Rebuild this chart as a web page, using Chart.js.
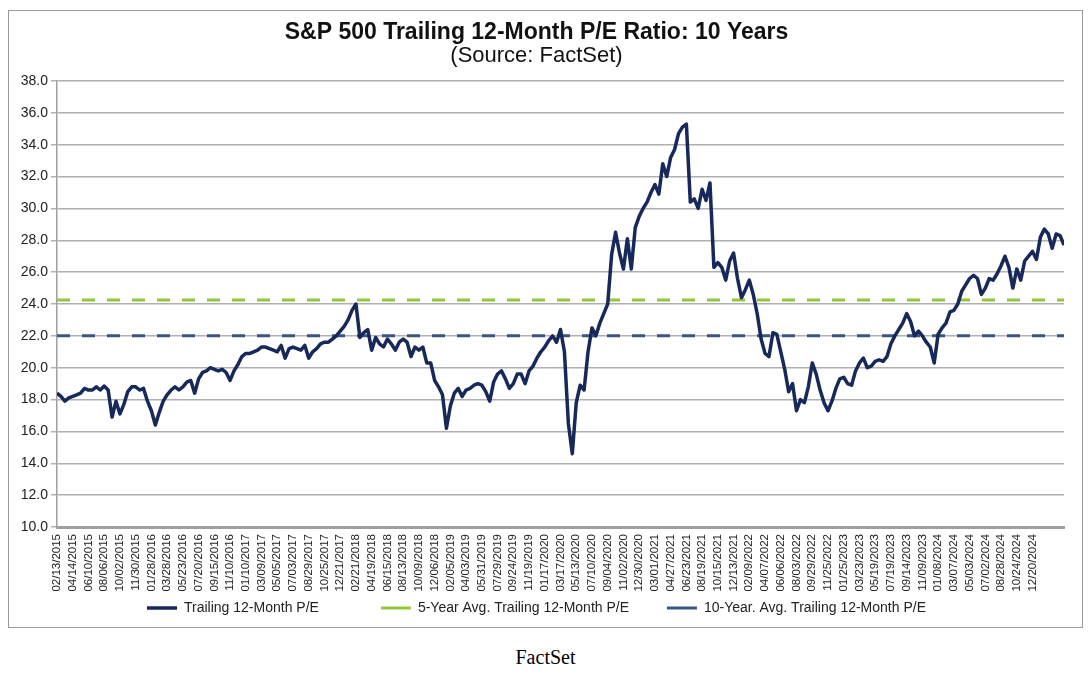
<!DOCTYPE html>
<html>
<head>
<meta charset="utf-8">
<title>S&amp;P 500 Trailing 12-Month P/E Ratio: 10 Years</title>
<script src="https://cdn.jsdelivr.net/npm/chart.js@4.4.1/dist/chart.umd.min.js"></script>
<style>
  body { margin: 0; background: #fff; }
  #box {
    position: absolute; left: 8px; top: 10px;
    width: 1075px; height: 618px;
    box-sizing: border-box; border: 1px solid #9a9a9a;
  }
  #chart { display: block; }
  #source {
    position: absolute; left: 0; width: 1091px; top: 646px;
    text-align: center; font-family: "Liberation Serif", "DejaVu Serif", serif;
    font-size: 20px; color: #000;
  }
</style>
</head>
<body>
<div id="box"><canvas id="chart" width="1073" height="616"></canvas></div>
<div id="source">FactSet</div>
<script>
// tick labels on the x axis, one every 4 points
const tickLabels = [
  "02/13/2015", "04/14/2015", "06/10/2015", "08/06/2015", "10/02/2015", "11/30/2015",
  "01/28/2016", "03/28/2016", "05/23/2016", "07/20/2016", "09/15/2016", "11/10/2016",
  "01/10/2017", "03/09/2017", "05/05/2017", "07/03/2017", "08/29/2017", "10/25/2017",
  "12/21/2017", "02/21/2018", "04/19/2018", "06/15/2018", "08/13/2018", "10/09/2018",
  "12/06/2018", "02/05/2019", "04/03/2019", "05/31/2019", "07/29/2019", "09/24/2019",
  "11/19/2019", "01/17/2020", "03/17/2020", "05/13/2020", "07/10/2020", "09/04/2020",
  "11/02/2020", "12/30/2020", "03/01/2021", "04/27/2021", "06/23/2021", "08/19/2021",
  "10/15/2021", "12/13/2021", "02/09/2022", "04/07/2022", "06/06/2022", "08/03/2022",
  "09/29/2022", "11/25/2022", "01/25/2023", "03/23/2023", "05/19/2023", "07/19/2023",
  "09/14/2023", "11/09/2023", "01/08/2024", "03/07/2024", "05/03/2024", "07/02/2024",
  "08/28/2024", "10/24/2024", "12/20/2024"
];
const pointsPerTick = 4;

// trailing 12-month P/E (roughly every 10 trading days)
const trailingPE = [
  18.4, 18.2, 17.9, 18.1, 18.2, 18.3, 18.4, 18.7, 18.6, 18.6,   // 0
  18.8, 18.6, 18.85, 18.6, 16.9, 17.9, 17.1, 17.7, 18.5, 18.8,  // 10
  18.8, 18.6, 18.7, 17.9, 17.3, 16.4, 17.2, 17.9, 18.3, 18.6,   // 20
  18.8, 18.6, 18.8, 19.1, 19.2, 18.4, 19.3, 19.7, 19.8, 20.0,   // 30
  19.9, 19.8, 19.9, 19.7, 19.2, 19.8, 20.2, 20.7, 20.9, 20.9,   // 40
  21.0, 21.1, 21.3, 21.3, 21.2, 21.1, 21.0, 21.4, 20.6, 21.2,   // 50
  21.3, 21.2, 21.1, 21.4, 20.6, 21.0, 21.2, 21.5, 21.6, 21.6,   // 60
  21.8, 22.0, 22.3, 22.6, 23.0, 23.6, 24.0, 21.9, 22.2, 22.4,   // 70
  21.1, 21.9, 21.5, 21.3, 21.8, 21.5, 21.1, 21.6, 21.8, 21.6,   // 80
  20.7, 21.3, 21.1, 21.3, 20.3, 20.3, 19.2, 18.8, 18.3, 16.2,   // 90
  17.6, 18.4, 18.7, 18.2, 18.6, 18.7, 18.9, 19.0, 18.9, 18.5,   // 100
  17.9, 19.1, 19.6, 19.8, 19.3, 18.7, 19.0, 19.6, 19.6, 19.0,   // 110
  19.8, 20.1, 20.6, 21.0, 21.3, 21.7, 22.0, 21.6, 22.4, 21.0,   // 120
  16.5, 14.6, 17.8, 18.9, 18.6, 21.0, 22.5, 22.0, 22.8, 23.4,   // 130
  24.0, 27.1, 28.5, 27.2, 26.2, 28.1, 26.2, 28.8, 29.5, 30.0,   // 140
  30.4, 31.0, 31.5, 30.9, 32.8, 32.0, 33.2, 33.7, 34.7, 35.1,   // 150
  35.3, 30.4, 30.6, 30.0, 31.2, 30.5, 31.6, 26.3, 26.6, 26.3,   // 160
  25.5, 26.7, 27.2, 25.6, 24.4, 24.9, 25.5, 24.6, 23.4, 21.8,   // 170
  20.9, 20.7, 22.2, 22.1, 21.0, 19.9, 18.5, 19.0, 17.3, 18.0,   // 180
  17.8, 18.8, 20.3, 19.6, 18.6, 17.8, 17.3, 17.9, 18.7, 19.3,   // 190
  19.4, 19.0, 18.9, 19.8, 20.3, 20.6, 20.0, 20.1, 20.4, 20.5,   // 200
  20.4, 20.7, 21.5, 22.0, 22.4, 22.8, 23.4, 22.9, 22.0, 22.3,   // 210
  22.0, 21.6, 21.3, 20.3, 22.1, 22.5, 22.8, 23.5, 23.6, 24.0,   // 220
  24.8, 25.2, 25.6, 25.8, 25.6, 24.6, 25.0, 25.6, 25.5, 25.9,   // 230
  26.4, 27.0, 26.3, 25.0, 26.2, 25.5, 26.7, 27.0, 27.3, 26.8,   // 240
  28.2, 28.7, 28.4, 27.5, 28.4, 28.3, 27.7                      // 250
];

const fiveYearAvg = 24.25;
const tenYearAvg = 22.0;

const seriesNames = [
  "Trailing 12-Month P/E",
  "5-Year Avg. Trailing 12-Month P/E",
  "10-Year. Avg. Trailing 12-Month P/E"
];

const lastIndex = trailingPE.length - 1;
const flatLine = (v) => [{ x: 0, y: v }, { x: lastIndex, y: v }];
const font = "'Liberation Sans', Arial, sans-serif";

// extra blank space after the first two legend entries (the legend is spread out in the original)
const legendGaps = ["\u2003\u2003\u2003\u2003", "\u2003\u2003 ", ""];

const ctx = document.getElementById("chart");

new Chart(ctx, {
  type: "line",
  data: {
    datasets: [
      {
        label: seriesNames[0],
        data: trailingPE.map((v, i) => ({ x: i, y: v })),
        borderColor: "#16295a",
        backgroundColor: "#16295a",
        borderWidth: 3.5,
        pointRadius: 0,
        borderJoinStyle: "round",
        tension: 0,
      },
      {
        label: seriesNames[1],
        data: flatLine(fiveYearAvg),
        borderColor: "#94c83c",
        backgroundColor: "#94c83c",
        borderWidth: 3,
        borderDash: [13, 12],
        pointRadius: 0,
      },
      {
        label: seriesNames[2],
        data: flatLine(tenYearAvg),
        borderColor: "#3a5580",
        backgroundColor: "#3a5580",
        borderWidth: 3,
        borderDash: [13, 12],
        pointRadius: 0,
      },
    ],
  },
  options: {
    responsive: false,
    animation: false,
    devicePixelRatio: 1,
    layout: { padding: { left: 0, right: 18, top: 0, bottom: 2 } },
    plugins: {
      title: {
        display: true,
        text: "S&P 500 Trailing 12-Month P/E Ratio: 10 Years",
        color: "#111",
        font: { family: font, size: 23, weight: "bold", lineHeight: 1.0 },
        padding: { top: 10, bottom: 0 },
      },
      subtitle: {
        display: true,
        text: "(Source: FactSet)",
        color: "#111",
        font: { family: font, size: 22, lineHeight: 1.0 },
        padding: { top: 1, bottom: 14 },
      },
      legend: {
        position: "bottom",
        labels: {
          usePointStyle: true,
          pointStyle: "line",
          pointStyleWidth: 30,
          padding: 6,
          color: "#222",
          font: { family: font, size: 14 },
          generateLabels: (chart) =>
            Chart.defaults.plugins.legend.labels.generateLabels(chart).map((item, i) => ({
              ...item,
              text: item.text + legendGaps[i],
            })),
        },
      },
      tooltip: { enabled: false },
    },
    scales: {
      x: {
        type: "linear",
        min: 0,
        max: lastIndex,
        afterBuildTicks: (axis) => {
          axis.ticks = tickLabels.map((t, k) => ({ value: k * pointsPerTick }));
        },
        afterFit: (scale) => { scale.height = 68; },
        grid: { display: false, drawTicks: false },
        border: { display: true, color: "#a0a0a0", width: 3 },
        ticks: {
          autoSkip: false,
          minRotation: 90,
          maxRotation: 90,
          padding: 7,
          color: "#222",
          font: { family: font, size: 11.5 },
          callback: (v) => tickLabels[Math.round(v / pointsPerTick)],
        },
      },
      y: {
        min: 10,
        max: 38,
        afterFit: (scale) => { scale.width = 48; },
        grid: { color: "#b0b0b0", lineWidth: 1.5, tickLength: 6 },
        border: { display: true, color: "#a0a0a0", width: 1.5 },
        ticks: {
          stepSize: 2,
          padding: 3,
          color: "#222",
          font: { family: font, size: 14 },
          callback: (v) => v.toFixed(1),
        },
      },
    },
  },
});
</script>
</body>
</html>
